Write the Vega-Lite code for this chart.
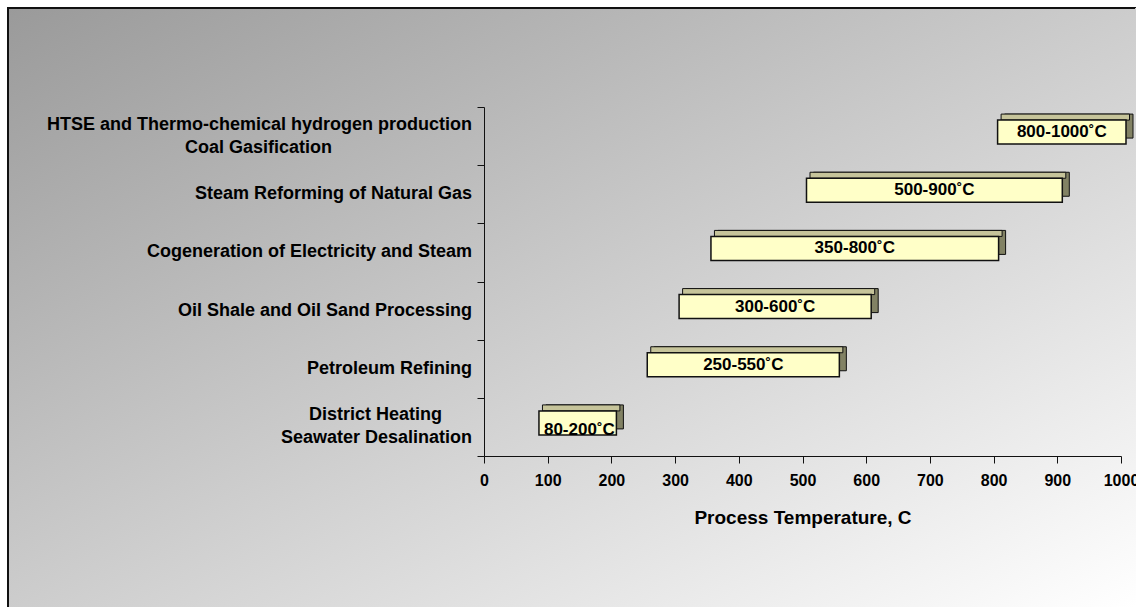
{
  "$schema": "https://vega.github.io/schema/vega-lite/v6.json",
  "width": 1128,
  "height": 599,
  "autosize": {"type": "none"},
  "padding": {"left": 8, "top": 8, "right": 0, "bottom": 0},
  "background": "#ffffff",
  "config": {
    "font": "Liberation Sans",
    "view": {
      "fill": {"gradient": "linear", "x1": 0, "y1": 0, "x2": 1, "y2": 1, "stops": [{"offset": 0, "color": "#9a9a9a"}, {"offset": 1, "color": "#ffffff"}]},
      "stroke": {"gradient": "linear", "x1": 0, "y1": 0, "x2": 1, "y2": 1, "stops": [{"offset": 0, "color": "#111111"}, {"offset": 0.5, "color": "#111111"}, {"offset": 0.5, "color": "rgba(0,0,0,0)"}, {"offset": 1, "color": "rgba(0,0,0,0)"}]},
      "strokeWidth": 2
    }
  },
  "data": {
    "values": [
      {"category": "HTSE and Thermo-chemical hydrogen production\nCoal Gasification", "lo": 800, "hi": 1000, "label": "800-1000˚C"},
      {"category": "Steam Reforming of Natural Gas", "lo": 500, "hi": 900, "label": "500-900˚C"},
      {"category": "Cogeneration of Electricity and Steam", "lo": 350, "hi": 800, "label": "350-800˚C"},
      {"category": "Oil Shale and Oil Sand Processing", "lo": 300, "hi": 600, "label": "300-600˚C"},
      {"category": "Petroleum Refining", "lo": 250, "hi": 550, "label": "250-550˚C"},
      {"category": "District Heating\nSeawater Desalination", "lo": 80, "hi": 200, "label": "80-200˚C"}
    ]
  },
  "transform": [
    {"calculate": "(datum.lo + datum.hi) / 2", "as": "mid"},
    {"calculate": "indexof(datum.category, '\\n') < 0 ? datum.category : indexof(datum.category, 'Coal') >= 0 ? [split(datum.category, '\\n')[0], pad(split(datum.category, '\\n')[1], 45, '\u00a0') + '\u200b'] : [pad(split(datum.category, '\\n')[0], 22, '\u00a0') + '\u200b', split(datum.category, '\\n')[1]]", "as": "lines"}
  ],
  "encoding": {
    "y": {
      "field": "category",
      "type": "nominal",
      "sort": null,
      "scale": {"range": [99, 448], "paddingInner": 0, "paddingOuter": 0},
      "axis": {
        "orient": "left",
        "offset": -476,
        "title": null,
        "tickBand": "extent",
        "tickSize": 7,
        "tickColor": "#111111",
        "domainColor": "#111111",
        "labels": false
      }
    }
  },
  "layer": [
    {
      "mark": {"type": "bar", "height": 24, "yOffset": -10, "xOffset": 11, "x2Offset": 12, "fill": "#828264", "stroke": "#111111", "strokeWidth": 1},
      "encoding": {
        "x": {
          "field": "lo",
          "type": "quantitative",
          "scale": {"domain": [0, 1000], "range": [476, 1113], "nice": false, "zero": true},
          "axis": {
            "orient": "bottom",
            "offset": -151,
            "values": [0, 100, 200, 300, 400, 500, 600, 700, 800, 900, 1000],
            "format": "d",
            "grid": false,
            "title": "Process Temperature, C",
            "titleFontSize": 19,
            "titleFontWeight": "bold",
            "titleColor": "#000000",
            "titlePadding": 20,
            "labelFontSize": 16,
            "labelFontWeight": "bold",
            "labelColor": "#000000",
            "labelPadding": 9,
            "labelFlush": false,
            "labelOverlap": false,
            "tickSize": 7,
            "tickColor": "#111111",
            "domainColor": "#111111"
          }
        },
        "x2": {"field": "hi"}
      }
    },
    {
      "mark": {"type": "bar", "height": 6, "yOffset": -19, "xOffset": 7.5, "x2Offset": 8.5, "fill": "#c6c49a", "stroke": "#111111", "strokeWidth": 1},
      "encoding": {
        "x": {"field": "lo", "type": "quantitative"},
        "x2": {"field": "hi"}
      }
    },
    {
      "mark": {"type": "bar", "height": 24, "yOffset": -4, "xOffset": 4, "x2Offset": 5, "fill": "#ffffc8", "stroke": "#111111", "strokeWidth": 1.5},
      "encoding": {
        "x": {"field": "lo", "type": "quantitative"},
        "x2": {"field": "hi"}
      }
    },
    {
      "transform": [{"filter": "datum.lo >= 100"}],
      "mark": {"type": "text", "fontSize": 17, "fontWeight": "bold", "color": "#000000", "align": "center", "baseline": "middle", "dx": 4.5, "dy": -4},
      "encoding": {
        "x": {"field": "mid", "type": "quantitative"},
        "text": {"field": "label"}
      }
    },
    {
      "transform": [{"filter": "datum.lo < 100"}],
      "mark": {"type": "text", "fontSize": 17, "fontWeight": "bold", "color": "#000000", "align": "left", "baseline": "alphabetic", "dx": 9, "dy": 8},
      "encoding": {
        "x": {"field": "lo", "type": "quantitative"},
        "text": {"field": "label"}
      }
    },
    {
      "transform": [{"filter": "indexof(datum.category, '\\n') < 0"}],
      "mark": {"type": "text", "fontSize": 18, "fontWeight": "bold", "color": "#000000", "align": "right", "baseline": "middle", "dx": -12},
      "encoding": {
        "x": {"datum": 0, "type": "quantitative"},
        "text": {"field": "lines"}
      }
    },
    {
      "transform": [{"filter": "indexof(datum.category, '\\n') >= 0"}],
      "mark": {"type": "text", "fontSize": 18, "fontWeight": "bold", "color": "#000000", "align": "right", "baseline": "middle", "lineHeight": 23, "dx": -12, "dy": -11.5},
      "encoding": {
        "x": {"datum": 0, "type": "quantitative"},
        "text": {"field": "lines"}
      }
    }
  ]
}
